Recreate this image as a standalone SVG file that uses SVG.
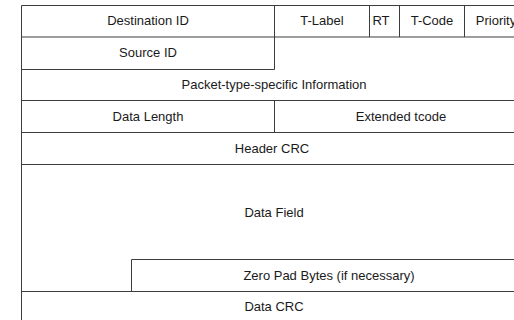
<svg xmlns="http://www.w3.org/2000/svg" width="514" height="320" viewBox="0 0 514 320">
  <style>
    .cell { fill: none; stroke: #3c3c3c; stroke-width: 1; }
    .lbl { font-family: "Liberation Sans", Arial, sans-serif; font-size: 13px; fill: #1a1a1a; text-anchor: middle; }
  </style>
  <rect width="514" height="320" fill="#ffffff"/>

  <!-- packet frame: outer border runs past the right edge -->
  <g id="frame">
    <path class="cell" d="M21.5,5.5 H530 M21.5,5.5 V330"/>
  </g>

  <g id="destination-id">
    <path class="cell" d="M21.5,37 H530 M274.5,5.5 V69.5"/>
    <text class="lbl" x="148" y="25">Destination ID</text>
  </g>
  <g id="t-label">
    <path class="cell" d="M369.5,5.5 V37"/>
    <text class="lbl" x="322" y="25">T-Label</text>
  </g>
  <g id="rt">
    <path class="cell" d="M399.5,5.5 V37"/>
    <text class="lbl" x="381" y="25">RT</text>
  </g>
  <g id="t-code">
    <path class="cell" d="M464.5,5.5 V37"/>
    <text class="lbl" x="432" y="25">T-Code</text>
  </g>
  <g id="priority">
    <text class="lbl" x="496" y="25">Priority</text>
  </g>

  <g id="source-id">
    <path class="cell" d="M21.5,69.5 H274.5"/>
    <text class="lbl" x="148" y="57">Source ID</text>
  </g>

  <g id="packet-type-specific-information">
    <path class="cell" d="M21.5,100.5 H530"/>
    <text class="lbl" x="274" y="89">Packet-type-specific Information</text>
  </g>

  <g id="data-length">
    <path class="cell" d="M21.5,132.5 H530 M274.5,100.5 V132.5"/>
    <text class="lbl" x="148" y="121">Data Length</text>
  </g>
  <g id="extended-tcode">
    <text class="lbl" x="401" y="121">Extended tcode</text>
  </g>

  <g id="header-crc">
    <path class="cell" d="M21.5,164.5 H530"/>
    <text class="lbl" x="272" y="153">Header CRC</text>
  </g>

  <g id="data-field">
    <text class="lbl" x="274" y="217">Data Field</text>
  </g>

  <g id="zero-pad-bytes">
    <path class="cell" d="M131.5,291.5 V259.5 H530"/>
    <text class="lbl" x="329" y="280">Zero Pad Bytes (if necessary)</text>
  </g>

  <g id="data-crc">
    <path class="cell" d="M21.5,291.5 H530"/>
    <text class="lbl" x="274" y="311">Data CRC</text>
  </g>
</svg>
